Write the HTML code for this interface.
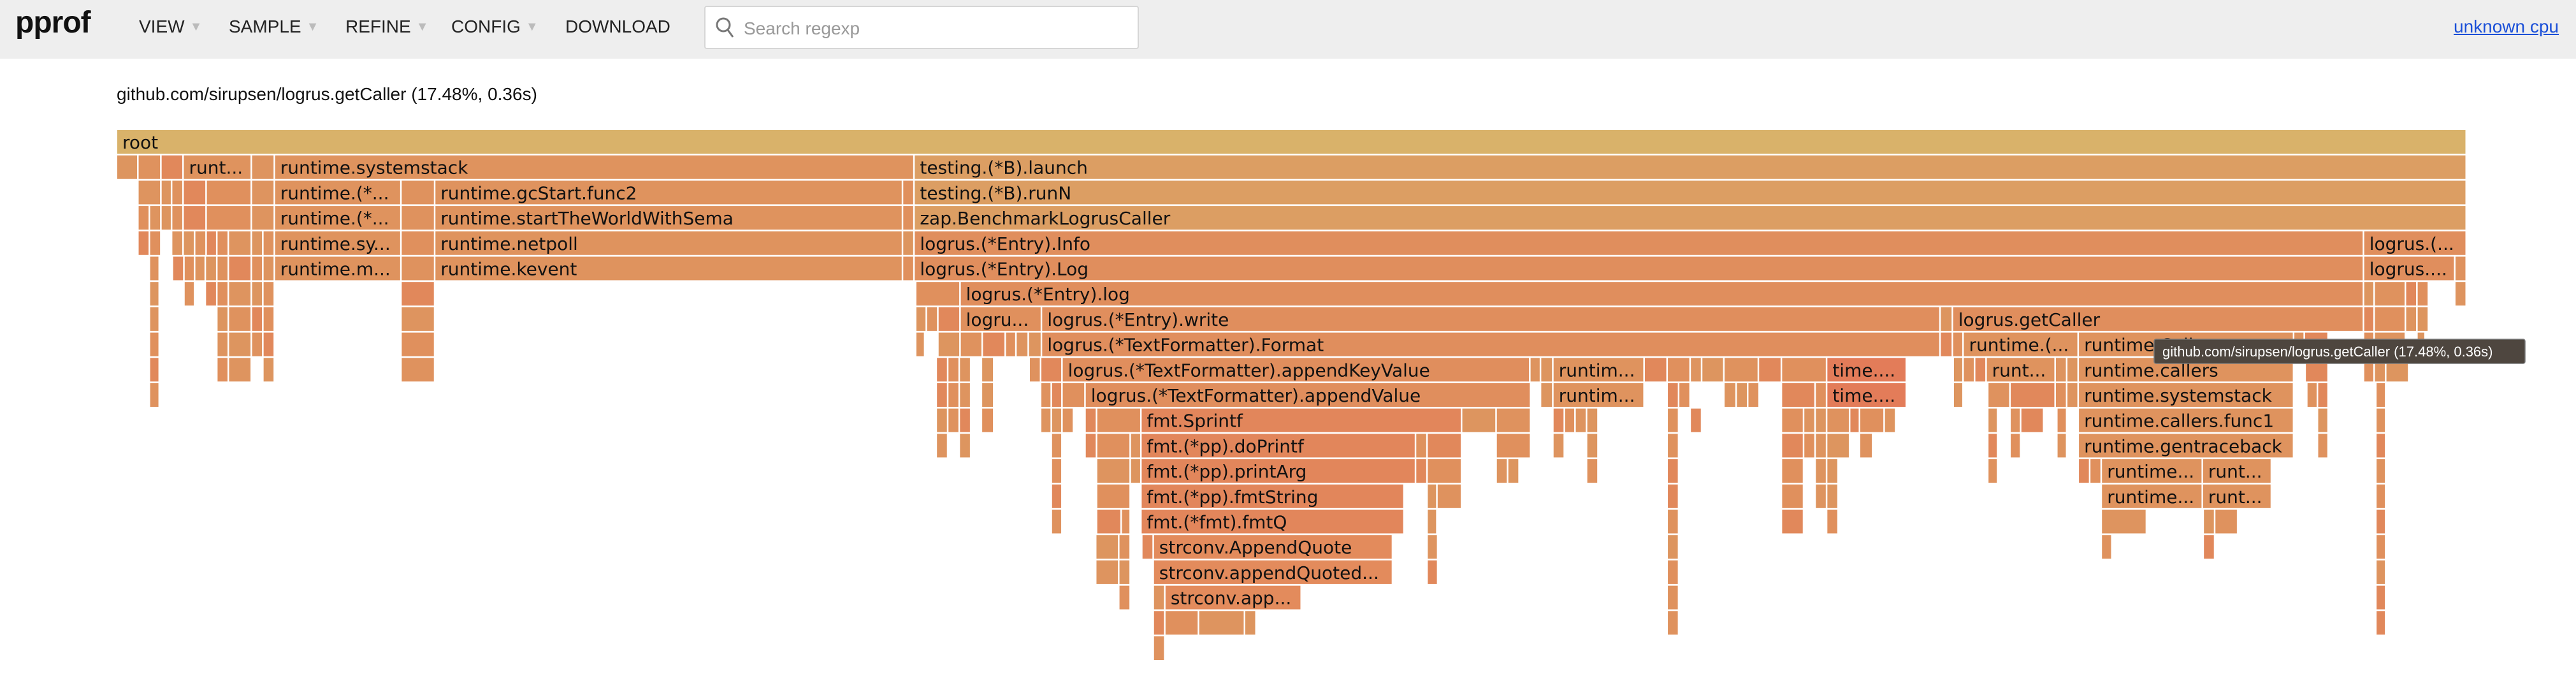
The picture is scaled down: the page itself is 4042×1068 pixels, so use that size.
<!DOCTYPE html>
<html><head><meta charset="utf-8">
<style>
html,body{margin:0;padding:0;background:#fff;width:4042px;height:1068px;overflow:hidden;font-family:"Liberation Sans",sans-serif;}
#hdr{position:absolute;left:0;top:0;width:4042px;height:92px;background:#eeeeee;}
.logo{position:absolute;left:24px;top:8px;font-weight:bold;font-size:48px;color:#111;letter-spacing:-1px;}
.menu{position:absolute;top:26px;font-size:28px;color:#222;}
.arr{color:#bbb;font-size:20px;margin-left:8px;vertical-align:3px;}
#search{position:absolute;left:1105px;top:9px;width:682px;height:68px;border:2px solid #d6d6d6;border-radius:4px;background:#fff;box-sizing:border-box;}
#search span{position:absolute;left:60px;top:18px;font-size:28px;color:#999;}
#cpu{position:absolute;left:3850px;top:26px;font-size:28px;color:#1a4fd8;text-decoration:underline;}
#title{position:absolute;left:183px;top:132px;font-size:28px;color:#111;}
svg{position:absolute;left:0;top:0;}
</style></head><body>
<div id="hdr">
 <div class="logo">pprof</div>
 <div class="menu" style="left:218px">VIEW<span class="arr">▼</span></div>
 <div class="menu" style="left:359px">SAMPLE<span class="arr">▼</span></div>
 <div class="menu" style="left:542px">REFINE<span class="arr">▼</span></div>
 <div class="menu" style="left:708px">CONFIG<span class="arr">▼</span></div>
 <div class="menu" style="left:887px">DOWNLOAD</div>
 <div id="search">
  <svg width="40" height="50" style="left:12px;top:10px"><circle cx="16" cy="18" r="10" fill="none" stroke="#777" stroke-width="3"/><line x1="23" y1="26" x2="31" y2="37" stroke="#777" stroke-width="3"/></svg>
  <span>Search regexp</span>
 </div>
 <div id="cpu">unknown cpu</div>
</div>
<div id="title">github.com/sirupsen/logrus.getCaller (17.48%, 0.36s)</div>
<svg id="fg" width="4042" height="1068"></svg>
<script>
const totalSamples = 1429;
const frameStarts = [
[0],
[0,13,27,40.5,82,96,485],
[13,27,33.5,40.5,54.5,82,96,173,193.5,478,485],
[13,20,27,33.5,40.5,54.5,82,96,173,193.5,478,485],
[13,20,33.5,40.5,47.5,54.5,61,68,82,89,96,173,193.5,478,485,1366.5],
[20,34,41,47.5,54,61,68,82,89,96,173,193.5,478,485,1366.5,1422],
[20,41,54,61,68,82,89,173,486,513,1366.5,1373,1392,1399,1422],
[20,61,68,82,89,173,486,492.5,499.5,513,562.5,1109,1116.5,1366.5,1373,1392,1399],
[20,61,68,82,89,173,486,499.5,513,526.5,540.5,547,554.5,562.5,1109,1116.5,1123,1193,1324,1330.5,1366.5,1373,1399],
[20,61,68,89,173,498.5,505.5,512.5,526,555,562,575,859.5,866,873.5,929,943,957,964,977.5,998.5,1012.5,1040,1117,1123,1130,1137,1179,1186,1193,1331,1366.5,1373,1380],
[20,498.5,505.5,512.5,526,562,568.5,575,589,866,873.5,943,950,977.5,985,992,1012.5,1033,1040,1117,1138,1151.5,1179,1186,1193,1332,1338.5,1374],
[498.5,505.5,512.5,526,562,568.5,575,589,596,623,818,839,873.5,880.5,887,894,943,957,1012.5,1026,1033,1040,1054,1060,1075,1138,1151.5,1158,1180,1193,1338.5,1374],
[498.5,512.5,568.5,589,596,616.5,623,790,797,839,873.5,894,943,1012.5,1026,1033,1040,1060,1138,1151.5,1180,1193,1338.5,1374],
[568.5,596,616.5,623,790,797,839,846,894,943,1012.5,1033,1040,1138,1193,1200,1207,1268.5,1374],
[568.5,596,623,797,803,943,1012.5,1033,1040,1207,1268.5,1374],
[568.5,596,611,623,797,943,1012.5,1040,1207,1269,1276,1374],
[595.5,609.5,623.5,630.5,797,943,1207,1269,1374],
[595.5,609.5,630.5,797,943,1374],
[609.5,630.5,637.5,943,1374],
[630.5,637.5,658,686,943,1374],
[630.5]
];
const frameWidths = [
[1429],
[13,14,13.5,41.5,14,389,944],
[14,6.5,7,14,27.5,14,77,20.5,284.5,7,944],
[7,7,6.5,7,14,27.5,14,77,20.5,284.5,7,944],
[7,7,7,7,7,6.5,7,14,7,7,77,20.5,284.5,7,881.5,62.5],
[6,7,6.5,6.5,7,7,14,7,7,77,20.5,284.5,7,881.5,55.5,7],
[6,6.5,7,7,14,7,7,20.5,27,853.5,6.5,19,7,7,7],
[6,7,14,7,7,20.5,6.5,7,13.5,49.5,546.5,7.5,250,6.5,19,7,7],
[6,7,14,7,7,20.5,5.5,13.5,13.5,14,6.5,7.5,8,546.5,7.5,6.5,70,131,6.5,14.5,6.5,19,5],
[6,7,14,7,20.5,7,7,7,7.5,7,13,284.5,6.5,7.5,55.5,14,14,7,13.5,21,14,27.5,48.5,6,7,7,42,7,7,131,14,6.5,7,14],
[6,7,7,7,7.5,6.5,6.5,14,271,7.5,55.5,7,7,7.5,7,7,20.5,7,48.5,6,13.5,27.5,7,7,131,6.5,6.5,6],
[7,7,7,7.5,6.5,6.5,7,7,27,195,21,21,7,6.5,7,7,7,7,13.5,7,7,14,6,15,7,6,6.5,14,6,131,6.5,6],
[7,7,6.5,7,20.5,6.5,167,7,21,21,7,7,7,13.5,7,7,14,8,6,6.5,6,131,6.5,6],
[6.5,20.5,6.5,167,7,21,7,7,7,7,13.5,7,7,6,7,7,61.5,42,6],
[6.5,20.5,160,6,15,7,13.5,7,7,61.5,42,6],
[6.5,15,5.5,160,6,7,13.5,7,27.5,7,14,6],
[14,7,7,145.5,6.5,7,6.5,7,6],
[14,7,145.5,6.5,7,6],
[7,7,83,7,6],
[7,20.5,28,7,7,6],
[7]
];
const frameNames = [
["root"],
["","","","runt...","","runtime.systemstack","testing.(*B).launch"],
["","","","","","","runtime.(*...","","runtime.gcStart.func2","","testing.(*B).runN"],
["","","","","","","","runtime.(*...","","runtime.startTheWorldWithSema","","zap.BenchmarkLogrusCaller"],
["","","","","","","","","","","runtime.sy...","","runtime.netpoll","","logrus.(*Entry).Info","logrus.(..."],
["","","","","","","","","","runtime.m...","","runtime.kevent","","logrus.(*Entry).Log","logrus....",""],
["","","","","","","","","","logrus.(*Entry).log","","","","",""],
["","","","","","","","","","logru...","logrus.(*Entry).write","","logrus.getCaller","","","",""],
["","","","","","","","","","","","","","logrus.(*TextFormatter).Format","","","runtime.(...","runtime.Caller","","","","",""],
["","","","","","","","","","","","logrus.(*TextFormatter).appendKeyValue","","","runtim...","","","","","","","","time....","","","","runt...","","","runtime.callers","","","",""],
["","","","","","","","","logrus.(*TextFormatter).appendValue","","runtim...","","","","","","","","time....","","","","","","runtime.systemstack","","",""],
["","","","","","","","","","fmt.Sprintf","","","","","","","","","","","","","","","","","","","","runtime.callers.func1","",""],
["","","","","","","fmt.(*pp).doPrintf","","","","","","","","","","","","","","","runtime.gentraceback","",""],
["","","","fmt.(*pp).printArg","","","","","","","","","","","","","runtime...","runt...",""],
["","","fmt.(*pp).fmtString","","","","","","","runtime...","runt...",""],
["","","","fmt.(*fmt).fmtQ","","","","","","","",""],
["","","","strconv.AppendQuote","","","","",""],
["","","strconv.appendQuoted...","","",""],
["","","strconv.app...","",""],
["","","","","",""],
[""]
];
const X0 = 183, X1 = 3870, Y0 = 204, ROW = 39.7, BOXH = 37;
function xScale(v){ return X0 + v * (X1 - X0) / totalSamples; }
function yScale(d){ return Y0 + d * ROW; }
function colorFor(name, d, i){
  if (name === "root") return "#d9b26a";
  if (/^(testing|zap)/.test(name)) return "#dc9e63";
  if (/^fmt/.test(name)) return "#e2865b";
  if (/^time/.test(name)) return "#e37c59";
  if (/^strconv/.test(name)) return "#e38b5c";
  if (/^logrus/.test(name)) return "#e08e5d";
  if (/^runt/.test(name)) return "#df935e";
  if (d >= 1 && d <= 3 && i === frameNames[d].length - 1) return "#dc9e63";
  const pal = ["#df925e","#e0905d","#dd955f","#e1885b","#de945f"];
  return pal[(d * 7 + i * 3) % pal.length];
}
const NS = "http://www.w3.org/2000/svg";
const svg = document.getElementById("fg");
for (let d = 0; d < frameStarts.length; d++) {
  for (let i = 0; i < frameStarts[d].length; i++) {
    const s = frameStarts[d][i], w = frameWidths[d][i], nm = frameNames[d][i];
    const x = xScale(s) + 1, xe = xScale(s + w) - 1.5;
    const g = document.createElementNS(NS, "g");
    
    
    const r = document.createElementNS(NS, "rect");
    r.setAttribute("x", x); r.setAttribute("y", yScale(d));
    r.setAttribute("width", Math.max(1, xe - x)); r.setAttribute("height", BOXH);
    r.setAttribute("fill", colorFor(nm, d, i));
    g.appendChild(r);
    if (nm) {
      const t = document.createElementNS(NS, "text");
      t.setAttribute("x", x + 8); t.setAttribute("y", yScale(d) + 29);
      t.setAttribute("font-family", "DejaVu Sans, sans-serif");
      t.setAttribute("font-size", "28");
      t.setAttribute("fill", "#111");
      t.textContent = nm;
      g.appendChild(t);
    }
    svg.appendChild(g);
  }
}
const tg = document.createElementNS(NS, "g");


const tr = document.createElementNS(NS, "rect");
tr.setAttribute("x", 3380); tr.setAttribute("y", 532); tr.setAttribute("width", 582); tr.setAttribute("height", 38);
tr.setAttribute("rx", 3); tr.setAttribute("fill", "#4e463f"); tr.setAttribute("stroke", "#777"); tr.setAttribute("stroke-width", "1.5");
tg.appendChild(tr);
const tt = document.createElementNS(NS, "text");
tt.setAttribute("x", 3393); tt.setAttribute("y", 559);
tt.setAttribute("font-family", "Liberation Sans, sans-serif"); tt.setAttribute("font-size", "22"); tt.setAttribute("fill", "#fff");
tt.textContent = "github.com/sirupsen/logrus.getCaller (17.48%, 0.36s)";
tg.appendChild(tt);
svg.appendChild(tg);
</script>
</body></html>
